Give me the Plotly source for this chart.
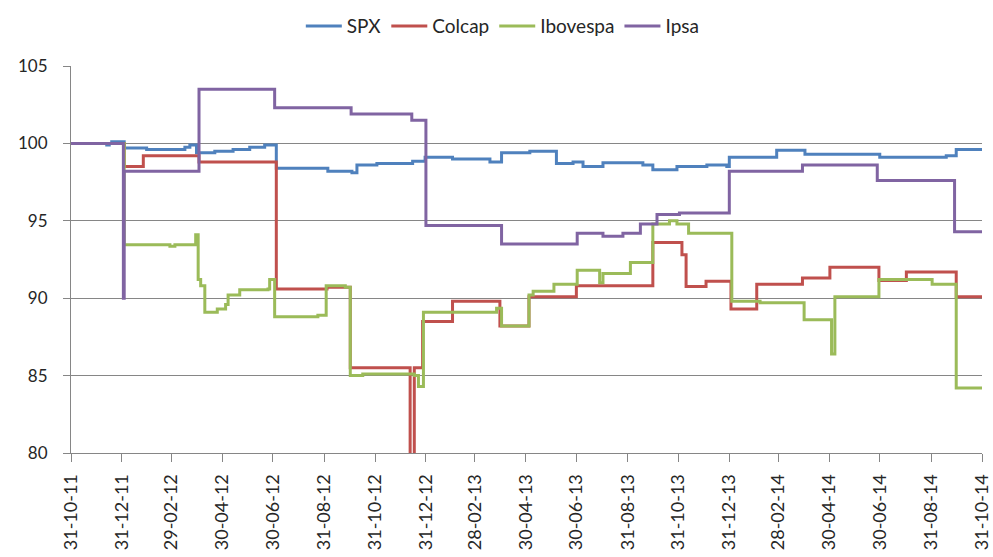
import plotly.graph_objects as go

# Index levels (base 100 on 31-10-11), stored as step change points:
# each value holds until the next date.
spx_dates = ["2011-10-31", "2011-12-13", "2011-12-16", "2011-12-19", "2012-01-03",
             "2012-01-30", "2012-03-16", "2012-03-22", "2012-03-30", "2012-04-21",
             "2012-05-13", "2012-06-02", "2012-06-20", "2012-07-04", "2012-09-04",
             "2012-10-03", "2012-10-09", "2012-11-02", "2012-12-15", "2012-12-30",
             "2013-02-01", "2013-03-18", "2013-04-01", "2013-05-05", "2013-06-06",
             "2013-06-26", "2013-07-08", "2013-08-01", "2013-09-18", "2013-09-30",
             "2013-10-29", "2013-12-04", "2013-12-28", "2013-12-31", "2014-02-26",
             "2014-04-01", "2014-06-30", "2014-09-18", "2014-09-30", "2014-10-31"]
spx_values = [100.0, 99.9, 100.0, 100.1, 99.7,
              99.6, 99.75, 99.9, 99.4, 99.5,
              99.6, 99.75, 99.9, 98.4, 98.2,
              98.1, 98.6, 98.7, 98.85, 99.1,
              99.0, 98.8, 99.4, 99.5, 98.7,
              98.8, 98.5, 98.75, 98.6, 98.3,
              98.5, 98.6, 98.5, 99.1, 99.55,
              99.3, 99.1, 99.2, 99.6, 99.6]

colcap_dates = ["2011-10-31", "2012-01-03", "2012-01-26", "2012-04-02", "2012-07-04",
                "2012-09-03", "2012-10-01", "2012-12-12", "2012-12-17", "2012-12-27",
                "2013-02-01", "2013-03-30", "2013-05-04", "2013-06-30", "2013-09-30",
                "2013-11-04", "2013-11-09", "2013-12-03", "2014-01-02", "2014-02-02",
                "2014-03-29", "2014-05-01", "2014-06-29", "2014-08-01", "2014-09-30",
                "2014-10-31"]
colcap_values = [100.0, 98.5, 99.2, 98.8, 90.6,
                 90.7, 85.5, 78.0, 85.5, 88.5,
                 89.8, 88.2, 90.1, 90.8, 93.6,
                 92.8, 90.75, 91.1, 89.3, 90.9,
                 91.3, 92.0, 91.15, 91.7, 90.1,
                 90.1]

ibovespa_dates = ["2011-10-31", "2012-01-03", "2012-02-27", "2012-03-04", "2012-03-29",
                  "2012-04-01", "2012-04-04", "2012-04-09", "2012-04-24", "2012-05-04",
                  "2012-05-07", "2012-05-21", "2012-06-24", "2012-06-26", "2012-07-02",
                  "2012-08-23", "2012-09-02", "2012-09-25", "2012-10-01", "2012-10-16",
                  "2012-12-17", "2012-12-22", "2012-12-28", "2013-03-26", "2013-04-01",
                  "2013-05-04", "2013-05-09", "2013-06-03", "2013-07-01", "2013-07-28",
                  "2013-08-01", "2013-09-03", "2013-09-30", "2013-10-20", "2013-10-29",
                  "2013-11-12", "2014-01-03", "2014-02-06", "2014-03-31", "2014-05-03",
                  "2014-05-07", "2014-06-29", "2014-09-01", "2014-09-30", "2014-10-31"]
ibovespa_values = [100.0, 93.45, 93.35, 93.45, 94.1,
                   91.2, 90.8, 89.1, 89.3, 89.6,
                   90.2, 90.55, 90.6, 91.2, 88.8,
                   88.9, 90.8, 90.7, 85.0, 85.1,
                   85.0, 84.3, 89.1, 89.35, 88.2,
                   90.2, 90.45, 90.9, 91.8, 91.0,
                   91.6, 92.3, 94.8, 95.0, 94.8,
                   94.2, 89.8, 89.7, 88.6, 86.4,
                   90.1, 91.2, 90.9, 84.2, 84.2]

ipsa_dates = ["2011-10-31", "2012-01-02", "2012-01-03", "2012-04-02", "2012-07-02",
              "2012-10-02", "2012-12-14", "2012-12-31", "2013-04-01", "2013-07-01",
              "2013-08-01", "2013-08-25", "2013-09-15", "2013-10-05", "2013-11-01",
              "2013-12-31", "2014-03-29", "2014-06-27", "2014-09-28", "2014-10-31"]
ipsa_values = [100.0, 90.0, 98.2, 103.5, 102.3,
               101.9, 101.5, 94.7, 93.5, 94.2,
               94.0, 94.2, 94.8, 95.4, 95.5,
               98.2, 98.6, 97.6, 94.3, 94.3]

tick_dates = ["2011-10-31", "2011-12-31", "2012-02-29", "2012-04-30", "2012-06-30",
              "2012-08-31", "2012-10-31", "2012-12-31", "2013-02-28", "2013-04-30",
              "2013-06-30", "2013-08-31", "2013-10-31", "2013-12-31", "2014-02-28",
              "2014-04-30", "2014-06-30", "2014-08-31", "2014-10-31"]

series = [
    ("SPX", spx_dates, spx_values, "#4F81BD"),
    ("Colcap", colcap_dates, colcap_values, "#C0504D"),
    ("Ibovespa", ibovespa_dates, ibovespa_values, "#9BBB59"),
    ("Ipsa", ipsa_dates, ipsa_values, "#8064A2"),
]

fig = go.Figure()
for name, dates, values, color in series:
    fig.add_trace(go.Scatter(
        x=dates, y=values, name=name, mode="lines",
        line=dict(color=color, width=3, shape="hv"),
    ))

font_family = "Lato, 'Open Sans', sans-serif"
axis_grey = "#868686"

fig.update_layout(
    width=993, height=557,
    margin=dict(l=71, r=11, t=66, b=104, autoexpand=False),
    paper_bgcolor="white", plot_bgcolor="white",
    font=dict(family=font_family, color="#262626"),
    showlegend=True,
    legend=dict(
        orientation="h", x=0.474, xanchor="center", y=1.103, yanchor="middle",
        font=dict(size=19, color="#262626"), itemwidth=36,
        bgcolor="rgba(0,0,0,0)", tracegroupgap=0,
    ),
    xaxis=dict(
        type="date", range=["2011-10-31", "2014-10-31"],
        tickvals=tick_dates, tickformat="%d-%m-%y", tickangle=-90,
        tickfont=dict(size=18, color="#262626"),
        ticks="outside", ticklen=8, tickcolor=axis_grey, tickwidth=1,
        showline=True, linecolor=axis_grey, linewidth=1,
        showgrid=False, zeroline=False, ticklabelstandoff=5, automargin=False,
    ),
    yaxis=dict(
        range=[80, 105], dtick=5, tick0=80,
        tickfont=dict(size=17, color="#262626"),
        ticks="outside", ticklen=7, tickcolor=axis_grey, tickwidth=1,
        showline=True, linecolor=axis_grey, linewidth=1,
        showgrid=True, gridcolor=axis_grey, gridwidth=1,
        zeroline=False, ticklabelstandoff=12, automargin=False,
    ),
)

fig.write_html("out.html")
